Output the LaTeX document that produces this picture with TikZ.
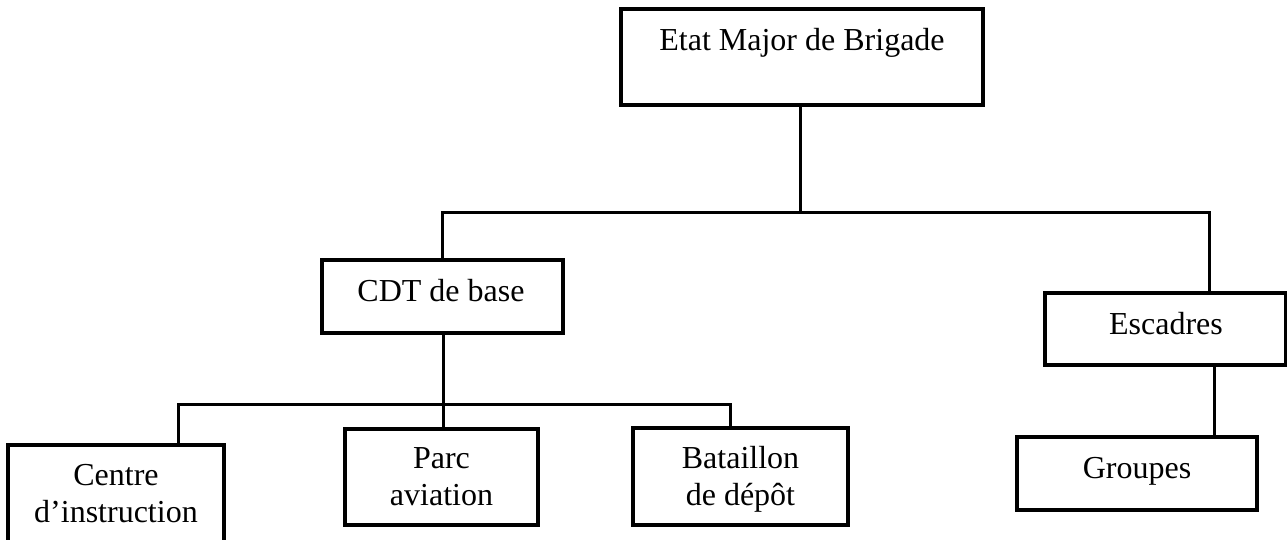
\documentclass[tikz,border=0pt]{standalone}
\usepackage{fontspec}
\setmainfont{Liberation Serif}
\begin{document}
\begin{tikzpicture}[x=1pt,y=-1pt,
  box/.style={draw,line width=3.5pt,inner sep=0,outer sep=0,minimum width=#1},
  lbl/.style={inner sep=0,anchor=base,align=center,font=\fontsize{32}{37}\selectfont},
  conn/.style={line width=3pt}]
\useasboundingbox (0,0) rectangle (1287,540);
% boxes
\node[box=362pt,minimum height=96pt] (etat) at (802,57) {};
\node[box=241pt,minimum height=73pt] (cdt) at (442.5,296.5) {};
\node[box=241pt,minimum height=72pt] (esc) at (1165.5,329) {};
\node[box=240pt,minimum height=73pt] (grp) at (1137,473.5) {};
\node[box=216pt,minimum height=115pt] (centre) at (116,502.5) {};
\node[box=193pt,minimum height=96pt] (parc) at (441.5,477) {};
\node[box=215pt,minimum height=97pt] (bat) at (740.5,476.5) {};
% labels (base = baseline of the last line)
\node[lbl] (tetat) at (802,51) {Etat Major de Brigade};
\node[lbl] (tcdt) at (441,301) {CDT de base};
\node[lbl] (tesc) at (1166,334) {Escadres};
\node[lbl] (tgrp) at (1137,478) {Groupes};
\node[lbl] (tcentre) at (116,522) {Centre\\d’instruction};
\node[lbl] (tparc) at (441.5,505) {Parc\\aviation};
\node[lbl] (tbat) at (740.5,505) {Bataillon\\de dépôt};
% connector coordinates
\coordinate (busA) at (800,212);
\coordinate (busAr) at (1209,212);
\coordinate (busB) at (443,404);
\coordinate (busBl) at (178,404);
\coordinate (busBr) at (730,404);
\coordinate (eg) at (1214,400);
% connectors
\draw[conn] (etat.south -| busA) -- (busA);
\draw[conn] (cdt.north) |- (busAr) -- (busAr |- esc.north);
\draw[conn] (cdt.south -| busB) -- (parc.north -| busB);
\draw[conn] (centre.north -| busBl) -- (busBl) -- (busBr) -- (busBr |- bat.north);
\draw[conn] (esc.south -| eg) -- (grp.north -| eg);
\end{tikzpicture}
\end{document}
